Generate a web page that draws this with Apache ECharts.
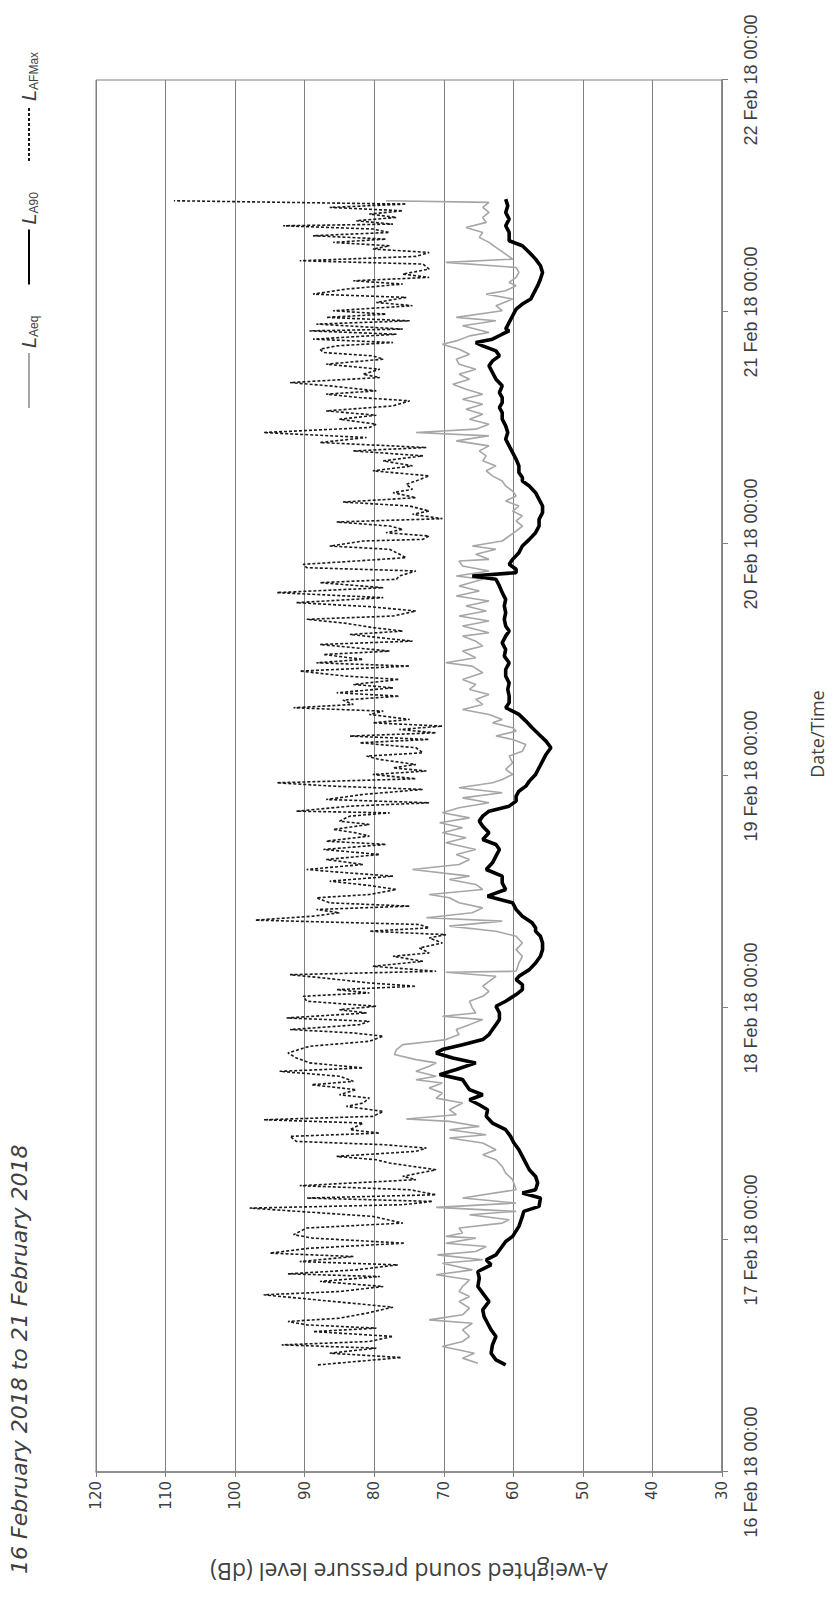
<!DOCTYPE html>
<html><head><meta charset="utf-8">
<script src="https://cdn.jsdelivr.net/npm/echarts@6/dist/echarts.min.js"></script>
<style>
html,body{margin:0;padding:0;background:#fff;}
#page{position:relative;width:838px;height:1604px;overflow:hidden;background:#fff;}
#chart{position:absolute;left:0;top:0;width:1604px;height:838px;transform-origin:0 0;transform:translate(0px,1604px) rotate(-90deg);}
</style></head><body>
<div id="page"><div id="chart"></div></div>
<script>
// Hours since 16 Feb 2018 00:00
const subtitleText = '16 February 2018 to 21 February 2018';
const timeTickLabels = ['16 Feb 18 00:00','17 Feb 18 00:00','18 Feb 18 00:00','19 Feb 18 00:00','20 Feb 18 00:00','21 Feb 18 00:00','22 Feb 18 00:00'];
const seriesNames = ['LAeq','LA90','LAFMax'];

const la90Hours = [11.08,11.60,12.29,13.15,14.02,14.71,15.39,16.08,16.77,17.64,18.50,19.19,20.05,20.74,21.43,21.95,22.46,23.15,23.84,
24.37,25.41,26.44,26.96,27.48,28.34,28.86,29.20,29.89,30.58,31.27,31.96,32.65,33.34,34.03,34.72,35.41,36.10,36.79,37.48,37.99,38.51,39.03,39.55,40.06,
40.59,41.11,41.63,42.32,42.83,43.35,43.70,44.21,44.73,45.25,45.77,46.28,46.80,47.49,48.18,48.70,49.39,49.90,50.42,50.94,51.28,51.97,52.66,53.35,54.04,54.73,55.42,55.94,
56.29,56.81,57.50,58.19,58.88,59.57,60.26,60.95,61.64,62.33,63.02,63.71,64.40,64.92,65.43,66.12,66.81,67.33,67.85,68.36,68.88,69.40,69.92,70.43,70.95,71.47,
72.16,72.85,73.54,74.23,74.92,75.61,76.30,76.99,77.68,78.37,78.71,79.06,79.57,80.26,80.95,81.64,82.33,83.02,83.71,84.40,85.09,85.78,86.47,86.99,
87.52,88.21,88.90,89.59,90.28,90.97,91.66,92.35,92.69,93.03,93.38,93.90,94.41,95.10,95.79,96.48,97.17,97.86,98.55,99.24,99.93,100.62,101.31,102.00,102.52,
102.88,103.39,104.08,104.77,105.46,106.15,106.84,107.53,108.22,108.91,109.60,110.12,110.63,111.15,111.67,112.36,113.05,113.74,114.43,114.94,115.46,115.98,116.50,116.84,117.19,117.70,118.05,
118.23,118.92,119.61,120.30,120.82,121.34,122.03,122.72,123.41,124.09,124.78,125.47,126.16,126.85,127.37,128.23,128.92,129.61,130.30,130.99,131.68];
const la90Values = [61.1,62.5,63.2,63.0,62.5,63.2,63.7,64.2,64.4,63.5,64.4,65.1,64.9,65.1,63.2,63.9,62.5,61.8,61.1,
60.1,59.2,58.7,58.5,56.3,56.1,58.7,56.8,56.5,56.8,57.7,58.2,58.7,59.2,59.9,60.4,61.1,63.0,63.9,63.7,64.9,66.3,64.4,66.3,66.8,
67.3,70.6,68.2,65.4,68.7,71.1,70.2,67.3,64.4,63.5,63.0,62.5,62.0,62.0,62.5,61.1,59.6,58.7,58.7,59.6,59.2,57.7,56.8,56.1,55.8,55.8,56.1,56.8,
56.8,57.3,58.7,59.6,60.1,63.7,61.1,61.6,61.6,63.9,63.0,62.5,62.0,62.5,64.4,63.5,64.4,64.9,64.4,63.5,60.6,59.6,59.6,59.2,58.2,57.7,
56.8,56.3,55.8,55.3,54.6,55.3,56.3,57.3,58.2,59.2,60.1,61.1,60.6,60.6,60.8,60.6,61.1,61.1,60.6,61.3,61.1,61.6,61.1,60.6,
61.1,61.3,61.1,61.3,61.1,61.6,62.0,62.5,65.9,59.6,59.6,60.6,60.1,59.2,58.7,57.7,56.8,56.3,56.3,55.8,55.8,56.3,56.8,57.7,58.7,
58.7,59.2,59.2,59.6,60.1,60.6,61.1,60.8,61.1,61.6,61.6,62.0,61.6,61.6,62.0,61.6,62.5,63.0,63.5,63.0,62.0,62.5,64.4,65.4,63.0,61.6,60.6,
61.1,60.6,60.1,59.6,58.7,57.5,57.0,56.5,56.1,55.8,56.1,56.8,57.7,58.7,60.6,60.6,61.1,60.6,61.1,60.8,61.1];

const laeqHours = [11.26,11.78,12.29,12.98,13.50,14.02,14.71,15.39,15.74,16.26,16.95,17.64,18.15,18.67,19.19,19.88,20.40,20.91,21.60,21.95,22.46,22.81,23.33,23.67,24.19,
24.37,24.72,25.24,25.75,26.10,26.62,26.96,27.37,27.82,28.34,29.20,30.24,30.92,31.61,32.30,32.82,33.34,34.03,34.55,34.89,35.41,35.75,36.27,36.51,36.96,37.48,38.17,38.68,39.20,39.72,40.24,40.58,
40.94,41.45,41.97,42.32,42.66,43.18,43.70,44.21,44.56,44.73,45.25,45.77,46.28,46.80,47.14,47.49,48.01,48.70,49.21,49.73,50.25,50.76,51.28,51.70,51.80,52.66,53.35,54.04,54.73,55.42,55.94,
56.47,56.99,57.33,57.85,58.36,58.88,59.40,59.74,60.26,60.78,61.30,61.64,62.33,62.85,63.36,63.88,64.40,65.09,65.61,66.12,66.64,67.16,67.67,68.19,68.71,69.23,69.74,70.26,70.78,71.30,
71.64,72.16,72.68,73.37,74.06,74.57,75.26,75.78,76.13,76.64,76.99,77.50,77.85,78.37,78.88,79.40,79.92,80.44,80.95,81.47,81.99,82.68,83.37,83.71,84.23,84.92,85.44,85.95,86.47,86.82,
87.52,88.03,88.55,89.07,89.59,90.10,90.62,91.14,91.66,92.35,92.69,93.21,93.72,94.24,94.41,94.93,95.45,95.79,96.31,96.83,97.34,97.86,98.38,98.90,99.41,99.93,100.45,100.97,101.48,102.00,102.52,
103.05,103.57,104.08,104.60,105.12,105.63,106.15,106.67,107.19,107.53,107.88,108.39,108.91,109.43,109.94,110.46,110.98,111.50,112.01,112.53,113.05,113.56,114.08,114.60,115.12,115.63,116.15,116.67,117.01,117.53,117.88,
118.58,119.09,119.44,120.13,120.65,121.34,121.85,122.20,122.72,123.06,123.58,124.09,124.61,125.13,125.47,125.99,126.68,127.20,127.72,128.23,128.75,129.27,129.78,130.30,130.82,131.34,131.51];
const laeqValues = [65.1,67.3,65.6,70.2,67.3,66.3,67.3,65.9,72.1,67.3,66.3,67.8,66.3,67.8,67.3,66.3,71.1,65.9,70.2,64.4,70.9,65.4,63.9,69.7,65.4,
69.7,67.3,67.8,61.6,60.6,66.3,59.6,71.1,59.6,67.3,59.6,60.1,61.1,61.6,62.5,64.4,62.5,64.4,69.2,63.9,69.2,64.9,69.2,75.4,68.2,69.2,67.3,71.1,70.2,72.1,70.2,74.0,
71.1,74.0,72.1,71.1,74.0,77.1,76.8,75.9,71.6,69.7,67.8,68.2,66.3,64.4,70.2,65.4,65.9,66.3,64.4,63.5,64.4,63.5,62.5,69.7,59.6,59.2,58.7,59.6,58.7,59.6,62.5,
69.2,61.6,72.5,65.9,64.4,67.8,69.2,72.1,64.4,65.4,69.2,66.3,74.5,67.8,66.3,68.2,65.4,69.7,66.8,70.2,67.3,70.6,66.3,70.2,67.8,63.5,67.3,61.6,67.8,63.0,
61.6,60.1,61.1,60.1,60.6,58.7,58.2,60.1,62.5,59.6,60.1,63.0,61.6,63.5,67.3,64.4,65.4,63.5,66.3,65.4,67.3,64.4,65.9,69.7,65.4,67.3,64.4,65.4,67.3,63.5,
67.3,63.5,67.8,63.9,66.8,63.5,68.2,64.9,67.8,64.4,68.2,63.5,67.3,67.8,63.5,65.4,62.5,65.9,61.6,60.6,59.6,58.7,59.6,58.7,60.1,59.2,61.1,59.6,60.1,61.1,61.6,
63.0,63.9,62.5,64.4,63.9,64.9,63.5,68.2,63.5,74.0,65.4,63.5,66.3,64.4,66.8,64.4,67.3,64.4,66.8,68.7,66.3,67.8,65.4,67.8,68.2,66.3,67.8,70.2,68.2,66.3,63.5,
67.3,62.5,68.2,61.6,62.5,60.1,63.9,61.1,59.6,60.6,59.6,59.2,59.6,69.7,60.1,61.1,62.5,63.5,64.9,64.4,66.8,63.9,64.4,63.5,64.4,63.5,78.3];

const lafmaxHours = [11.08,11.84,12.29,12.81,13.15,13.50,14.02,14.53,14.88,15.22,15.57,15.91,16.43,17.05,17.81,18.33,18.67,19.19,19.71,20.22,20.50,20.91,21.43,21.77,22.29,22.64,23.15,23.67,24.19,
24.55,25.24,25.75,26.44,27.30,27.65,27.99,28.34,28.68,29.20,29.62,30.24,30.58,31.27,31.96,32.30,32.65,33.17,33.51,33.86,34.20,34.72,35.06,35.41,36.10,36.44,36.79,37.30,37.82,38.17,38.68,39.03,39.55,40.06,40.41,
40.94,41.45,41.80,42.32,42.83,43.35,44.04,44.56,45.08,45.42,45.77,46.28,46.63,46.97,47.49,47.83,48.18,48.70,49.21,49.56,49.90,50.25,50.59,51.11,51.45,51.80,52.32,52.83,53.35,53.70,54.21,54.73,55.25,55.59,55.94,
56.29,56.64,57.09,57.50,57.85,58.19,58.54,58.88,59.40,59.74,60.26,60.67,61.12,61.64,61.99,62.33,62.85,63.36,63.88,64.40,64.92,65.26,65.78,66.12,66.47,66.99,67.33,67.85,68.19,68.36,68.88,69.23,69.57,70.09,70.61,70.95,71.30,
71.71,72.16,72.51,72.85,73.19,73.71,74.06,74.40,74.92,75.44,75.78,76.13,76.47,76.81,77.16,77.50,77.85,78.37,78.71,79.06,79.40,79.85,80.26,80.61,81.12,81.47,81.99,82.33,82.85,83.37,83.71,84.06,84.57,84.92,85.61,85.95,86.64,86.99,
87.35,87.79,88.21,88.55,89.07,89.52,89.93,90.45,90.97,91.48,92.00,92.35,92.69,93.21,93.55,93.90,94.24,94.59,95.10,95.45,95.79,96.31,96.48,96.83,97.17,97.52,97.86,98.28,98.62,99.07,99.41,99.93,100.34,100.79,101.31,101.66,102.17,102.52,
103.05,103.57,104.08,104.60,105.12,105.63,105.98,106.50,107.01,107.53,108.05,108.39,108.91,109.32,109.77,110.29,110.81,111.15,111.50,111.84,112.36,112.70,113.22,113.56,114.08,114.60,115.12,115.46,115.81,116.15,116.50,116.84,117.19,117.70,118.05,
118.23,118.75,119.09,119.44,119.78,120.13,120.65,120.99,121.51,121.85,122.37,122.89,123.23,123.58,123.92,124.44,124.96,125.30,125.75,126.16,126.51,126.85,127.20,127.54,127.89,128.23,128.58,128.92,129.09,129.44,129.78,130.13,130.47,130.82,131.16,131.51];
const lafmaxValues = [88.1,76.1,86.4,79.7,93.3,80.7,77.3,88.8,79.7,89.7,92.4,85.0,81.1,77.3,88.3,95.9,85.0,78.7,87.8,79.2,92.4,82.6,76.6,90.7,83.0,95.0,89.3,75.6,88.8,
91.6,89.7,75.9,80.2,97.9,75.9,71.6,89.7,71.1,74.9,90.7,74.0,75.9,71.1,77.8,79.7,85.4,74.0,72.5,78.7,91.2,92.1,79.2,83.5,81.6,95.9,80.2,78.7,84.0,81.6,80.7,85.0,82.6,89.0,83.0,
85.0,93.6,81.6,89.3,91.2,92.4,89.3,80.7,78.7,83.0,92.1,82.1,80.7,92.6,81.1,85.0,79.7,89.7,90.2,80.7,85.4,74.0,80.7,87.3,92.1,71.1,80.2,73.0,77.3,72.1,73.5,70.2,72.1,69.7,80.7,
72.1,73.5,97.1,88.8,85.0,88.3,74.9,86.4,88.3,80.7,76.8,80.7,86.4,77.3,84.0,89.7,81.6,86.9,79.2,87.3,78.3,86.9,80.7,82.6,85.9,80.7,85.0,83.5,77.8,91.2,83.5,72.1,86.9,81.6,73.0,85.9,94.0,
74.0,80.2,72.5,77.3,74.0,79.2,81.1,73.0,74.0,82.1,72.1,83.5,71.1,76.4,70.2,80.2,74.9,80.7,78.7,91.6,83.0,84.5,76.4,85.4,77.3,83.0,76.4,84.0,90.7,74.9,88.3,81.6,87.3,77.8,87.8,74.5,83.5,75.9,
80.2,84.0,89.7,77.3,74.0,80.7,91.2,78.7,94.0,78.7,87.8,76.8,76.4,74.0,89.7,90.2,82.6,75.4,76.8,77.8,86.4,81.6,73.0,72.1,78.3,75.9,77.8,85.4,70.2,74.5,72.1,74.9,84.5,74.0,77.3,74.5,75.4,74.0,
72.1,80.2,74.5,78.7,73.0,83.0,72.5,87.8,81.1,95.9,80.7,79.7,85.0,79.7,86.9,77.3,74.9,82.1,86.9,79.7,86.4,92.1,79.2,81.6,79.2,86.9,78.7,80.2,87.3,87.8,85.4,77.3,88.8,76.8,89.3,
75.9,88.3,74.9,86.9,78.3,85.9,74.5,79.7,75.4,88.8,84.0,75.9,83.0,72.1,75.9,72.1,73.0,90.7,74.0,72.1,80.2,77.8,85.9,78.3,88.8,77.8,80.2,93.1,77.3,82.6,76.8,80.7,75.9,86.4,75.4,108.8];

function pairs(h, v){ return h.map((x,i)=>[x, v[i]]); }

const chart = echarts.init(document.getElementById('chart'), null, {renderer:'svg', width:1604, height:838});
const textCol = '#404040';
const lineCol = '#808080';
const narrow = '"Liberation Sans Narrow", "Liberation Sans", sans-serif';
chart.setOption({
  animation:false,
  backgroundColor:'#ffffff',
  graphic:[{type:'text', left:30, top:8, style:{text:subtitleText, font:'italic 22px "DejaVu Sans"', fill:textCol}}],
  legend:{
    left:1190, top:14, itemWidth:55, itemHeight:14, itemGap:30,
    data:seriesNames,
    itemStyle:{opacity:0},
    formatter:n=>'{l|L}{s|'+n.slice(1)+'}',
    textStyle:{color:textCol, rich:{
      l:{fontSize:20, fontStyle:'italic', fontFamily:'Liberation Sans', color:textCol},
      s:{fontSize:12, fontFamily:'Liberation Sans', color:textCol, padding:[10,0,0,0]}
    }}
  },
  grid:{left:132, right:80, top:96, bottom:116, show:true, borderColor:lineCol, borderWidth:1},
  xAxis:{
    type:'value', min:0, max:144, interval:24,
    name:'Date/Time', nameLocation:'middle', nameGap:86,
    nameTextStyle:{fontFamily:'Open Sans', fontSize:18, color:textCol, padding:[0,0,0,84]},
    axisLine:{show:true, lineStyle:{color:lineCol, width:1.5}},
    axisTick:{show:true, length:6, lineStyle:{color:lineCol}},
    axisLabel:{margin:20, fontFamily:narrow, fontSize:18, color:textCol,
      formatter:v=>timeTickLabels[Math.round(v/24)]},
    splitLine:{show:false}
  },
  yAxis:{
    type:'value', min:30, max:120, interval:10,
    name:'A-weighted sound pressure level (dB)', nameLocation:'middle', nameGap:88,
    nameTextStyle:{fontFamily:'Open Sans', fontSize:23, color:textCol},
    axisLine:{show:true, lineStyle:{color:lineCol, width:1.5}},
    axisTick:{show:true, length:5, lineStyle:{color:lineCol}},
    axisLabel:{margin:9, fontFamily:'DejaVu Sans', fontSize:15, color:textCol},
    splitLine:{show:true, lineStyle:{color:lineCol, width:1}}
  },
  series:[
    {name:'LAeq', type:'line', symbol:'none', data:pairs(laeqHours, laeqValues),
     lineStyle:{color:'#a6a6a6', width:1.6}, itemStyle:{color:'#a6a6a6'}},
    {name:'LA90', type:'line', symbol:'none', data:pairs(la90Hours, la90Values),
     lineStyle:{color:'#000000', width:3.6}, itemStyle:{color:'#000000'}},
    {name:'LAFMax', type:'line', symbol:'none', data:pairs(lafmaxHours, lafmaxValues),
     lineStyle:{color:'#1a1a1a', width:1.6, type:[3,2]}, itemStyle:{color:'#1a1a1a'}}
  ]
});
</script>
</body></html>
